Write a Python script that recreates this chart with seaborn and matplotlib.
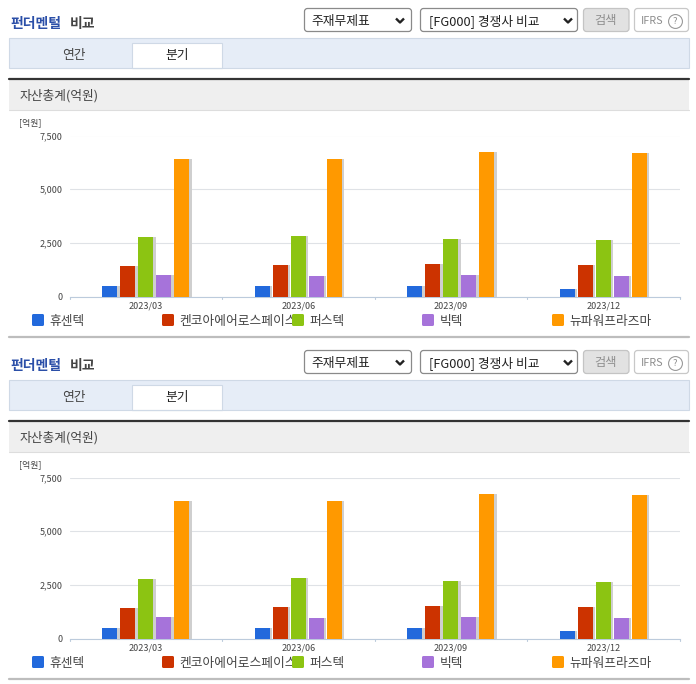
import matplotlib
matplotlib.use("Agg")
import matplotlib.pyplot as plt
import matplotlib.patheffects as pe
from matplotlib.patches import Rectangle, FancyBboxPatch
import pandas as pd
import seaborn as sns

sns.set_theme(style="white")
plt.rcParams['font.family'] = ['Noto Sans CJK KR', 'DejaVu Sans']

quarters = ["2023/03", "2023/06", "2023/09", "2023/12"]
companies = ["휴센텍", "켄코아에어로스페이스", "퍼스텍", "빅텍", "뉴파워프라즈마"]
colors = ["#2269dc", "#cc3300", "#8cc412", "#a673da", "#ff9900"]
v_hu = [495, 495, 495, 340]
v_ken = [1410, 1458, 1505, 1458]
v_peo = [2776, 2823, 2670, 2623]
v_big = [992, 946, 992, 946]
v_new = [6420, 6420, 6735, 6700]
yticks = [0, 2500, 5000, 7500]

df = pd.DataFrame({"q": quarters * 5,
                   "c": [c for c in companies for _ in quarters],
                   "v": v_hu + v_ken + v_peo + v_big + v_new})

W, H = 696, 684
fig = plt.figure(figsize=(W / 100, H / 100), dpi=100, facecolor="white")
ui = fig.add_axes([0, 0, 1, 1], zorder=1)
ui.set_xlim(0, W); ui.set_ylim(H, 0); ui.axis("off")

TXT = "#444444"
FS = 9.2

def box(x0, y0, x1, y1, fc, ec, lw=0.8, z=2):
    ui.add_patch(Rectangle((x0, y0), x1 - x0, y1 - y0, fc=fc, ec=ec, lw=lw, zorder=z))

def rbox(x0, y0, x1, y1, fc, ec):
    ui.add_patch(FancyBboxPatch((x0 + 3, y0 + 3), x1 - x0 - 6, y1 - y0 - 6,
                                boxstyle="round,pad=3,rounding_size=3", fc=fc, ec=ec, lw=0.9, zorder=2))

def chevron(x, y):
    ui.plot([x - 4, x, x + 4], [y - 2, y + 2, y - 2], color="#222222", lw=1.7, zorder=3,
            solid_capstyle="butt")

def panel(o):
    ui.text(10, 24 + o, "펀더멘털", color="#2b4fa8", fontsize=10, fontweight="bold", va="center", ha="left")
    ui.text(69.5, 24 + o, "비교", color="#444444", fontsize=10, fontweight="bold", va="center", ha="left")
    rbox(304.5, 8.5 + o, 411.5, 31.5 + o, "white", "#8a8a8a")
    ui.text(311, 21 + o, "주재무제표", color="#222222", fontsize=FS, va="center")
    chevron(400, 20.5 + o)
    rbox(420.5, 8.5 + o, 577.5, 31.5 + o, "white", "#8a8a8a")
    ui.text(429, 21 + o, "[FG000] 경쟁사 비교", color="#222222", fontsize=FS, va="center")
    chevron(568, 20.5 + o)
    rbox(583.5, 8.5 + o, 629, 31.5 + o, "#e2e2e2", "#c4c4c4")
    ui.text(606, 20.5 + o, "검색", color="#8e8e8e", fontsize=8.8, ha="center", va="center")
    rbox(634.5, 8.5 + o, 688.5, 31.5 + o, "white", "#c8c8c8")
    ui.text(641, 20.5 + o, "IFRS", color="#8e8e8e", fontsize=7.8, va="center")
    ui.text(675, 21 + o, "?", color="#8e8e8e", fontsize=6.8, ha="center", va="center", zorder=4)
    ui.plot([675], [21 + o], "o", ms=10, mfc="none", mec="#9a9a9a", mew=0.8, zorder=4)
    box(9, 38.3 + o, 688.7, 67.7 + o, "#e6edf7", "#cfd9e6")
    box(131.5, 43.3 + o, 222.3, 68 + o, "white", "#cfd9e6")
    ui.plot([132, 222], [67.7 + o, 67.7 + o], color="#cfd9e6", lw=0.8, zorder=3)
    ui.text(74, 55 + o, "연간", color=TXT, fontsize=FS, ha="center", va="center")
    ui.text(177, 56 + o, "분기", color="#222222", fontsize=FS, ha="center", va="center")
    box(9, 80 + o, 688.7, 110.3 + o, "#efefef", "none", 0)
    ui.plot([9, 688.7], [110.3 + o, 110.3 + o], color="#dddddd", lw=0.8, zorder=3)
    ui.plot([9, 688.7], [79 + o, 79 + o], color="#333333", lw=1.6, zorder=3)
    ui.text(20, 96 + o, "자산총계(억원)", color=TXT, fontsize=FS, va="center")
    ui.text(19, 123 + o, "[억원]", color=TXT, fontsize=6.4, va="center")
    ui.plot([9, 688.7], [336.7 + o, 336.7 + o], color="#bdbdbd", lw=1.6, zorder=3)
    # legend, drawn left to right so that a swatch covers the text before it
    for i, (name, col) in enumerate(zip(companies, colors)):
        x = 32 + 130 * i
        ui.text(x + 17.5, 321 + o, name, color=TXT, fontsize=FS, va="center", zorder=5 + 2 * i)
        ui.add_patch(FancyBboxPatch((x + 1, 315 + o), 10, 10, boxstyle="round,pad=1,rounding_size=1.5",
                                    fc=col, ec="none", zorder=6 + 2 * i))
    # chart
    x0, x1 = 69.5, 679.5
    ytop, ybot = 135.5 + o, 296.5 + o
    ax = fig.add_axes([x0 / W, 1 - ybot / H, (x1 - x0) / W, (ybot - ytop) / H], zorder=2)
    ax.patch.set_alpha(0)
    sns.barplot(data=df, x="q", y="v", hue="c", order=quarters, hue_order=companies,
                palette=colors, width=0.59, gap=0.14, saturation=1, legend=False, ax=ax, zorder=3,
                linewidth=0)
    for p in ax.patches:
        p.set_path_effects([pe.SimplePatchShadow(offset=(1.6, 0), shadow_rgbFace="#cfcfcf", alpha=1), pe.Normal()])
    ax.set_xlim(-0.5, 3.5); ax.set_ylim(0, 7500)
    ax.set_xlabel(""); ax.set_ylabel("")
    ax.set_yticks(yticks, [f"{t:,}" for t in yticks])
    ax.tick_params(axis="y", length=0, pad=5, labelsize=6.5, labelcolor=TXT)
    ax.tick_params(axis="x", length=0, pad=3.8, labelsize=6.5, labelcolor=TXT)
    ax.grid(axis="y", color="#dfe2e6", lw=0.8); ax.set_axisbelow(True)
    for s in ["top", "left", "right"]:
        ax.spines[s].set_visible(False)
    ax.spines["bottom"].set_color("#bccbdc"); ax.spines["bottom"].set_linewidth(0.8)
    for b in [-0.5, 0.5, 1.5, 2.5, 3.5]:
        ax.plot([b, b], [0, -0.018], transform=ax.get_xaxis_transform(), color="#bccbdc",
                lw=0.8, clip_on=False)

panel(0)
panel(342)
fig.savefig("out.png", dpi=100)
